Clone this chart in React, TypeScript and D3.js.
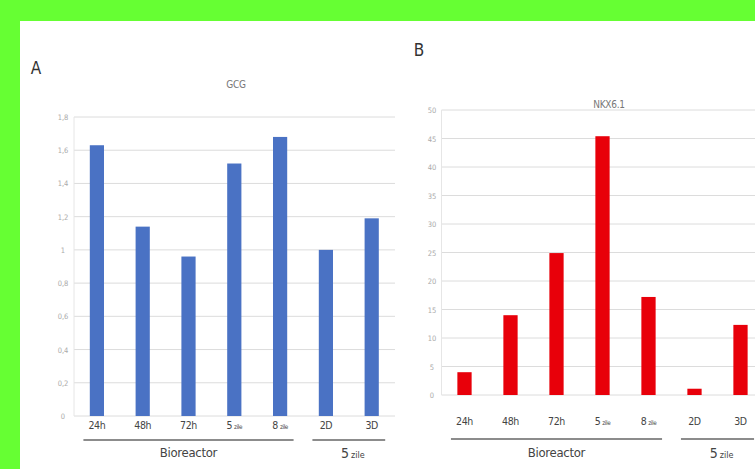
import React from "react";
import * as d3 from "d3";

const categories = ["24h", "48h", "72h", "5 zile", "8 zile", "2D", "3D"];
const gcgValues = [1.63, 1.14, 0.96, 1.52, 1.68, 1.0, 1.19];
const nkxValues = [4.0, 14.0, 24.9, 45.4, 17.2, 1.1, 12.3];
const gcgTicks = [0, 0.2, 0.4, 0.6, 0.8, 1, 1.2, 1.4, 1.6, 1.8];
const nkxTicks = [0, 5, 10, 15, 20, 25, 30, 35, 40, 45, 50];
const groups = [
  { label: "Bioreactor", from: 0, to: 4 },
  { label: "5 zile", from: 5, to: 6 },
];

const FONT = "'Liberation Sans Narrow', 'DejaVu Sans Condensed', 'Open Sans', sans-serif";

function CatLabel({ c, x, y, big }: { c: string; x: number; y: number; big: number }) {
  if (c.includes("zile")) {
    const [n] = c.split(" ");
    return (
      <text x={x} y={y} textAnchor="middle" fontFamily={FONT} fill="#444" letterSpacing={-0.4}>
        <tspan fontSize={big}>{n}</tspan>
        <tspan fontSize={big * 0.6} dx={2}>zile</tspan>
      </text>
    );
  }
  return (
    <text x={x} y={y} textAnchor="middle" fontFamily={FONT} fontSize={big} fill="#444" letterSpacing={-0.4}>
      {c}
    </text>
  );
}

function Panel(props: {
  letter: string; letterX: number; letterY: number;
  title: string; titleX: number; titleY: number;
  values: number[]; ticks: number[]; yMax: number;
  x0: number; x1: number; y0: number; y1: number; gridEnd: number;
  color: string; labelX: number; catY: number; lineY: number; groupY: number;
  tickFmt: (v: number) => string;
}) {
  const x = d3.scaleBand<string>().domain(categories).range([props.x0, props.x1]).paddingInner(0.69).paddingOuter(0.345);
  const y = d3.scaleLinear().domain([0, props.yMax]).range([props.y0, props.y1]);
  const bw = x.bandwidth();
  return (
    <g>
      <text x={props.letterX} y={props.letterY} fontFamily={FONT} fontSize={17} fill="#333" textAnchor="middle">{props.letter}</text>
      <text x={props.titleX} y={props.titleY} fontFamily={FONT} fontSize={10} fill="#777" textAnchor="middle" letterSpacing={-0.3}>{props.title}</text>
      {props.ticks.map((t) => (
        <g key={t}>
          <line x1={props.x0} x2={props.gridEnd} y1={y(t)} y2={y(t)} stroke="#dcdcdc" strokeWidth={1} />
          <text x={props.labelX} y={y(t) + 3} fontFamily={FONT} fontSize={7.5} fill="#aaa" textAnchor="middle">{props.tickFmt(t)}</text>
        </g>
      ))}
      <line x1={props.x0} x2={props.x0} y1={props.y0} y2={props.y1} stroke="#e6e6e6" />
      {props.values.map((v, i) => (
        <rect key={i} x={x(categories[i])!} y={y(v)} width={bw} height={props.y0 - y(v)} fill={props.color} />
      ))}
      {categories.map((c) => (
        <CatLabel key={c} c={c} x={x(c)! + bw / 2} y={props.catY} big={10.5} />
      ))}
      {groups.map((g) => {
        const a = x(categories[g.from])! - bw * 0.45;
        const b = x(categories[g.to])! + bw * 1.45;
        const mid = (a + b) / 2;
        return (
          <g key={g.label}>
            <line x1={a} x2={b} y1={props.lineY} y2={props.lineY} stroke="#666" strokeWidth={1.5} />
            {g.label === "5 zile" ? (
              <text x={mid + 4} y={props.groupY + 1} textAnchor="middle" fontFamily={FONT} fill="#444">
                <tspan fontSize={14}>5</tspan>
                <tspan fontSize={9} dx={2}>zile</tspan>
              </text>
            ) : (
              <text x={mid} y={props.groupY} textAnchor="middle" fontFamily={FONT} fontSize={13} fill="#444" letterSpacing={-0.3}>{g.label}</text>
            )}
          </g>
        );
      })}
    </g>
  );
}

export default function App() {
  return (
    <svg width={755} height={469} style={{ position: "absolute", left: 0, top: 0 }}>
      <rect x={0} y={0} width={755} height={469} fill="#66ff33" />
      <rect x={20} y={21} width={735} height={448} fill="#ffffff" />
      <Panel
        letter="A" letterX={36} letterY={74}
        title="GCG" titleX={236} titleY={88}
        values={gcgValues} ticks={gcgTicks} yMax={1.8}
        x0={74} x1={394.6} y0={416} y1={117} gridEnd={395}
        color="#4a72c4" labelX={63} catY={429} lineY={440} groupY={457}
        tickFmt={(v) => (v === 0 ? "0" : d3.format(".1f")(v).replace(/\.0$/, "").replace(".", ","))}
      />
      <Panel
        letter="B" letterX={419} letterY={56}
        title="NKX6.1" titleX={609} titleY={108}
        values={nkxValues} ticks={nkxTicks} yMax={50}
        x0={441.5} x1={763.5} y0={395} y1={110} gridEnd={755}
        color="#e8000a" labelX={432} catY={425} lineY={439} groupY={457}
        tickFmt={(v) => String(v)}
      />
    </svg>
  );
}
